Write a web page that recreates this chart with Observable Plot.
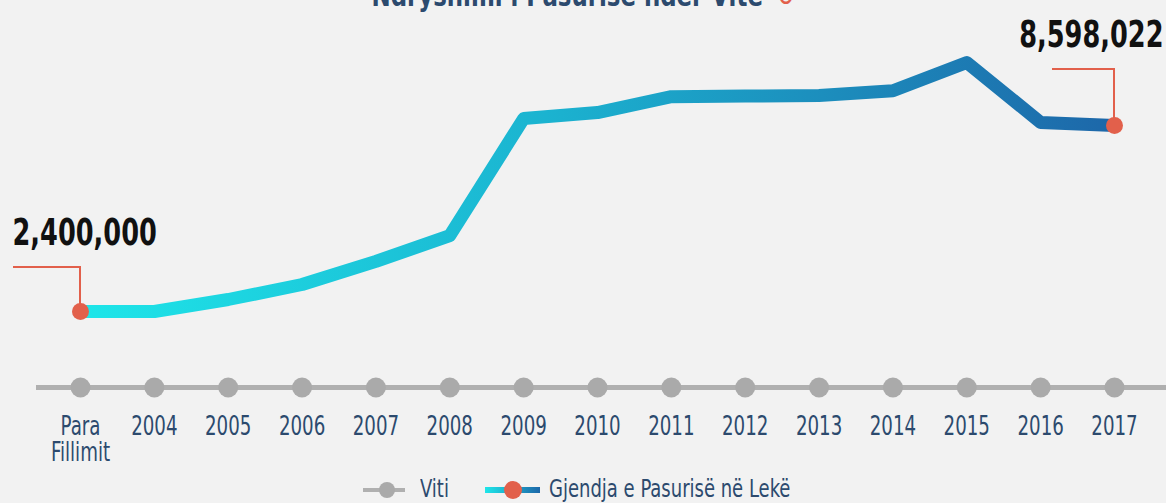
<!DOCTYPE html>
<html>
<head>
<meta charset="utf-8">
<script src="https://cdn.jsdelivr.net/npm/d3@7"></script>
<script src="https://cdn.jsdelivr.net/npm/@observablehq/plot@0.6"></script>
<style>
  html, body { margin: 0; padding: 0; background: #f2f2f2; overflow: hidden; }
  body { width: 1166px; height: 503px; position: relative;
         font-family: "DejaVu Sans Condensed", "DejaVu Sans", sans-serif; font-stretch: condensed; }
  #title { position: absolute; top: -20px; left: 0; width: 1166px; text-align: center;
           font-size: 31px; line-height: 30px; font-weight: bold; color: #2c4a6e; white-space: nowrap; }
  #title .inner { display: inline-block; transform: scaleX(0.82); transform-origin: center; }
  #title span.icon { color: #e2604b; margin-left: 16px; font-weight: normal; }
  #chart { position: absolute; top: 0; left: 0; }
  .lg { position: absolute; }
  .lgtext { position: absolute; top: 474px; font-size: 25px; line-height: 30px; color: #2c4a6e;
            transform: scaleX(0.8); transform-origin: left center; white-space: nowrap; }
  .dot { position: absolute; border-radius: 50%; }
</style>
</head>
<body>
<div id="title"><span class="inner">Ndryshimi i Pasurisë ndër Vite<span class="icon">↻</span></span></div>
<div id="chart"></div>
<div id="legend">
  <div class="lg" style="left:363px;top:488px;width:42px;height:4px;background:#b0b0b0;"></div>
  <div class="dot" style="left:379px;top:482px;width:16px;height:16px;background:#aaaaaa;"></div>
  <div class="lgtext" style="left:420px;">Viti</div>
  <div class="lg" style="left:485px;top:487px;width:55px;height:6px;background:linear-gradient(90deg,#1ee6e9,#1d67a9);"></div>
  <div class="dot" style="left:504px;top:481px;width:18px;height:18px;background:#e2604b;"></div>
  <div class="lgtext" style="left:549px;">Gjendja e Pasurisë në Lekë</div>
</div>
<script>
const categories = ["Para Fillimit", "2004", "2005", "2006", "2007", "2008", "2009", "2010", "2011", "2012", "2013", "2014", "2015", "2016", "2017"];
const tickLabels = ["Para\nFillimit", "2004", "2005", "2006", "2007", "2008", "2009", "2010", "2011", "2012", "2013", "2014", "2015", "2016", "2017"];
const values = [2400000, 2400000, 2800000, 3300000, 4070000, 4930000, 8830000, 9030000, 9560000, 9580000, 9600000, 9760000, 10700000, 8700000, 8598022];
const annoCategories = ["Para Fillimit", "2017"];
const annoValues = [2400000, 8598022];
const annoLabels = ["2,400,000", "8,598,022"];

const FONT = '"DejaVu Sans Condensed", "DejaVu Sans", sans-serif';
const ORANGE = "#e2604b";

const data = categories.map((c, i) => ({cat: c, value: values[i]}));
const anno = annoCategories.map((c, i) => ({cat: c, value: annoValues[i], label: annoLabels[i]}));

// style offsets (pixels) for annotation connectors
const elbowUp = [44, 56];
const elbowSide = [-67, -62];

function gradientDefs(index, scales) {
  const defs = d3.create("svg:defs");
  const g = defs.append("linearGradient").attr("id", "lineGrad")
    .attr("gradientUnits", "userSpaceOnUse")
    .attr("x1", scales.x(categories[0])).attr("x2", scales.x(categories[categories.length - 1]))
    .attr("y1", 0).attr("y2", 0);
  g.append("stop").attr("offset", "0%").attr("stop-color", "#1ee6e9");
  g.append("stop").attr("offset", "45%").attr("stop-color", "#1bb3d0");
  g.append("stop").attr("offset", "100%").attr("stop-color", "#1d67a9");
  return defs.node();
}

function connectors(index, scales) {
  const g = d3.create("svg:g");
  anno.forEach((d, i) => {
    const px = scales.x(d.cat), py = scales.y(d.value);
    g.append("path")
      .attr("d", `M${px + elbowSide[i]},${py - elbowUp[i]}H${px}V${py}`)
      .attr("fill", "none").attr("stroke", ORANGE).attr("stroke-width", 2);
  });
  return g.node();
}

const plot = Plot.plot({
  width: 1166,
  height: 470,
  marginLeft: 36,
  marginRight: 0,
  marginTop: 0,
  marginBottom: 0,
  style: {background: "transparent", fontFamily: FONT},
  x: {type: "point", domain: categories, range: [80, 1114], padding: 0, round: false, axis: null},
  y: {domain: [0, 12000000], range: [383, 23], axis: null},
  marks: [
    gradientDefs,
    Plot.ruleY([0], {stroke: "#b0b0b0", strokeWidth: 5, dy: 4}),
    Plot.dot(categories, {x: d => d, y: 0, r: 10, fill: "#aaaaaa", dy: 4}),
    Plot.text(categories, {x: d => d, y: 0, text: (d, i) => tickLabels[i], dy: 33, lineAnchor: "top",
      fontSize: 27, fill: "#2c4a6e", lineHeight: 0.96}),
    Plot.line(data, {x: "cat", y: "value", stroke: "url(#lineGrad)", strokeWidth: 13,
      strokeLinejoin: "round", strokeLinecap: "butt"}),
    connectors,
    Plot.dot(anno, {x: "cat", y: "value", r: 8.5, fill: ORANGE}),
    Plot.text(anno.slice(0, 1), {x: "cat", y: "value", text: "label", textAnchor: "start", dx: -68, dy: -79,
      fontSize: 38, fontWeight: "bold", fill: "#111111"}),
    Plot.text(anno.slice(1), {x: "cat", y: "value", text: "label", textAnchor: "end", dx: 49, dy: -91,
      fontSize: 38, fontWeight: "bold", fill: "#111111"})
  ]
});
// narrow the glyphs horizontally (condensed look) around each text's anchor
plot.querySelectorAll("text").forEach(t => {
  const tr = t.getAttribute("transform") || "";
  t.setAttribute("transform", tr + " scale(0.75,1)");
});
document.getElementById("chart").appendChild(plot);
</script>
</body>
</html>
